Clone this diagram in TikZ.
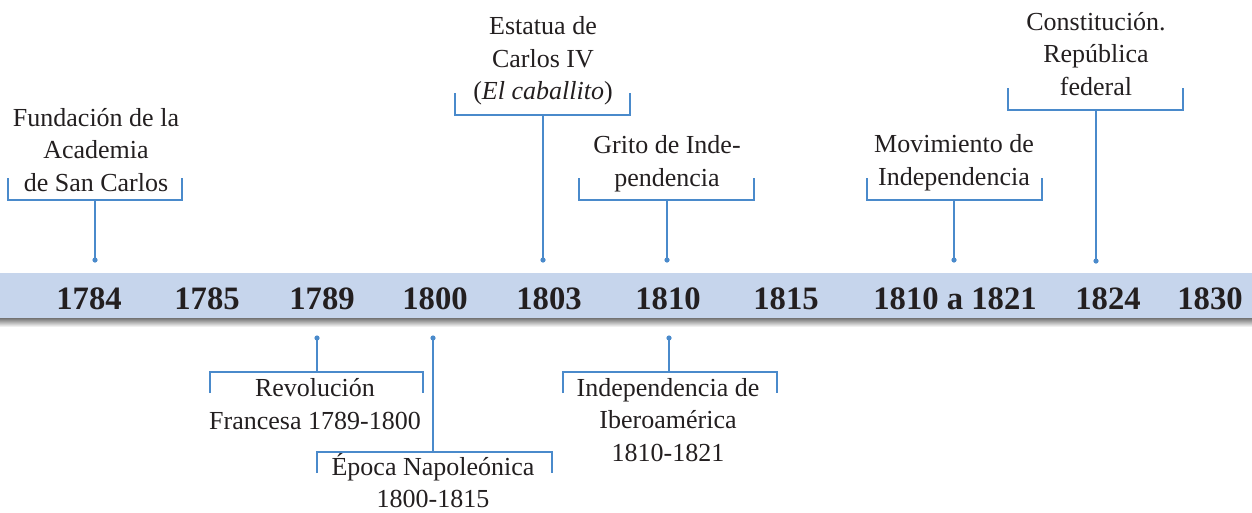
\documentclass[tikz,border=0pt]{standalone}
\usepackage{fontspec}
\setmainfont{Liberation Serif}
\definecolor{tlblue}{HTML}{4A8ACB}
\definecolor{tlbar}{HTML}{C6D5EC}
\definecolor{tltext}{HTML}{231F20}
\tikzset{
  year/.style={font=\bfseries\fontsize{24.5}{28}\selectfont, text=tltext, inner sep=0pt},
  lbl/.style={align=center, font=\fontsize{19.5}{24.5}\selectfont, text=tltext, inner sep=0pt},
  bracketline/.style={draw=tlblue, line width=1pt},
  stemline/.style={draw=tlblue, line width=1.5pt},
  dotmark/.style={fill=tlblue},
}
\begin{document}
\begin{tikzpicture}[x=0.75pt,y=-0.75pt]
\useasboundingbox (0,0) rectangle (1252,512);
% bar
\fill[tlbar] (0,273) rectangle (1252,318);
\shade[top color=black!55, bottom color=white] (0,318) rectangle (1252,327);
% years
\node[year] (y1784) at (89,299) {1784};
\node[year] (y1785) at (207,299) {1785};
\node[year] (y1789) at (322,299) {1789};
\node[year] (y1800) at (435,299) {1800};
\node[year] (y1803) at (549,299) {1803};
\node[year] (y1810) at (668,299) {1810};
\node[year] (y1815) at (786,299) {1815};
\node[year] (y1821) at (955,299) {1810 a 1821};
\node[year] (y1824) at (1108,299) {1824};
\node[year] (y1830) at (1210,299) {1830};

% labels
\node[lbl] (fund) at (96,150) {Fundación de la\\Academia\\de San Carlos};
\node[lbl] (esta) at (543,61) {Estatua de\\Carlos IV\\(\textit{El caballito})};
\node[lbl] (grito) at (667,164) {Grito de Inde-\\pendencia};
\node[lbl] (movi) at (954,163) {Movimiento de\\Independencia};
\node[lbl] (cons) at (1096,54) {Constitución.\\República\\federal};
\node[lbl] (revo) at (315,404) {Revolución\\Francesa 1789-1800};
\node[lbl, text depth=0pt, anchor=south] (epoca) at (433,508) {Época Napoleónica\\1800-1815};
\node[lbl] (inde) at (668,420) {Independencia de\\Iberoamérica\\1810-1821};

% coordinates: bracket ends, stem joins, dots
\coordinate (fundL) at (8,178);   \coordinate (fundR) at (182,178);  \coordinate (fundS) at (95,200);  \coordinate (fundD) at (95,260);
\coordinate (estaL) at (455,93);  \coordinate (estaR) at (630,93);   \coordinate (estaS) at (543,115); \coordinate (estaD) at (543,260);
\coordinate (gritoL) at (579,178);\coordinate (gritoR) at (754,178); \coordinate (gritoS) at (667,200);\coordinate (gritoD) at (667,260);
\coordinate (moviL) at (867,178); \coordinate (moviR) at (1042,178); \coordinate (moviS) at (954,200); \coordinate (moviD) at (954,260);
\coordinate (consL) at (1008,88); \coordinate (consR) at (1183,88);  \coordinate (consS) at (1096,110);\coordinate (consD) at (1096,261);
\coordinate (revoL) at (210,393); \coordinate (revoR) at (423,393);  \coordinate (revoS) at (317,372); \coordinate (revoD) at (317,338);
\coordinate (epocaL) at (317,473);\coordinate (epocaR) at (552,473); \coordinate (epocaS) at (433,452);\coordinate (epocaD) at (433,338);
\coordinate (indeL) at (563,393); \coordinate (indeR) at (777,393);  \coordinate (indeS) at (669,372); \coordinate (indeD) at (669,338);

\foreach \e in {fund,esta,grito,movi,cons,revo,epoca,inde}{
  \draw[bracketline] (\e L) |- (\e S) -| (\e R);
  \draw[stemline] (\e S) -- (\e D);
  \fill[dotmark] (\e D) circle[radius=2.6];
}
\end{tikzpicture}
\end{document}
